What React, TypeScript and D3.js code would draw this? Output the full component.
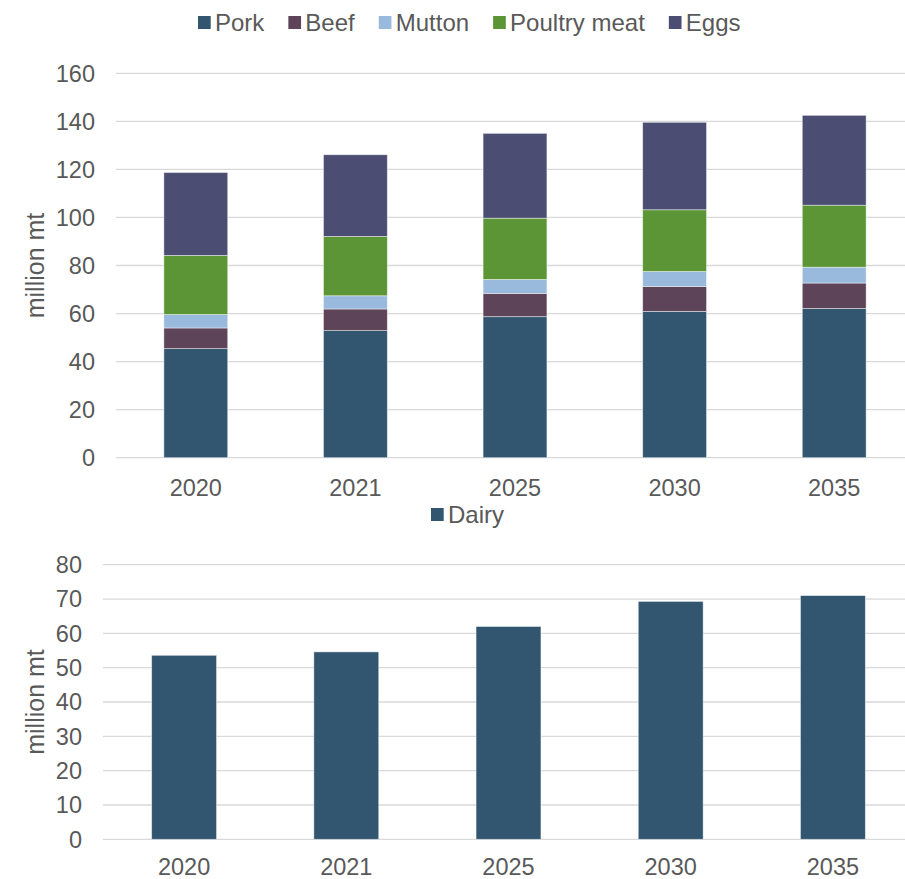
import { useRef, useEffect } from 'react';
import * as d3 from 'd3';

// data (million mt)
const years = ['2020', '2021', '2025', '2030', '2035'];
const meatSeries = ['Pork', 'Beef', 'Mutton', 'Poultry meat', 'Eggs'];
const pork = [45.4, 52.9, 58.7, 60.9, 62.1];
const beef = [8.6, 9.0, 9.7, 10.4, 10.6];
const mutton = [5.6, 5.5, 5.8, 6.2, 6.6];
const poultry = [24.6, 24.7, 25.5, 25.7, 25.8];
const eggs = [34.5, 34.0, 35.3, 36.4, 37.4];
const dairy = [53.6, 54.6, 62.0, 69.3, 71.0];
const topTicks = [0, 20, 40, 60, 80, 100, 120, 140, 160];
const bottomTicks = [0, 10, 20, 30, 40, 50, 60, 70, 80];

const colors = ['#325670', '#5d4459', '#99b9dd', '#5b9535', '#4b4d72'];
const textColor = '#595959';
const gridColor = '#d9d9d9';
const font = '"Liberation Sans", Arial, sans-serif';

function App() {
    const svgRef = useRef<SVGSVGElement>(null);

    useEffect(() => {
        const width = 905;
        const height = 879;
        const svg = d3.select(svgRef.current)
            .attr('width', width)
            .attr('height', height)
            .style('font-family', font);
        svg.selectAll('*').remove();

        //Legend helper: swatch + label, laid out left to right
        function legend(names: string[], cols: string[], x0: number, cy: number) {
            const g = svg.append('g');
            let x = x0;
            names.forEach((name, i) => {
                g.append('rect')
                    .attr('x', x).attr('y', cy - 6.5)
                    .attr('width', 12.7).attr('height', 13)
                    .attr('fill', cols[i]);
                const t = g.append('text')
                    .attr('x', x + 17)
                    .attr('y', cy)
                    .attr('dy', '0.36em')
                    .attr('font-size', 24)
                    .attr('fill', textColor)
                    .text(name);
                const w = (t.node() as SVGTextElement).getComputedTextLength();
                x = x + 17 + w + 24;
            });
        }

        //Gridlines + y tick labels
        function yAxis(y: d3.ScaleLinear<number, number>, ticks: number[], left: number, titleY: number) {
            const g = svg.append('g');
            g.selectAll('line').data(ticks).join('line')
                .attr('x1', left).attr('x2', width)
                .attr('y1', d => y(d)).attr('y2', d => y(d))
                .attr('stroke', gridColor).attr('stroke-width', 1.3);
            g.selectAll('text').data(ticks).join('text')
                .attr('x', left - 21)
                .attr('y', d => y(d))
                .attr('dy', '0.36em')
                .attr('text-anchor', 'end')
                .attr('font-size', 23.5)
                .attr('fill', textColor)
                .text(d => d);
            svg.append('text')
                .attr('transform', `translate(44,${titleY}) rotate(-90)`)
                .attr('text-anchor', 'middle')
                .attr('font-size', 25)
                .attr('fill', textColor)
                .text('million mt');
        }

        function xLabels(x: d3.ScaleBand<string>, baseline: number) {
            svg.append('g').selectAll('text').data(years).join('text')
                .attr('x', d => (x(d) as number) + x.bandwidth() / 2)
                .attr('y', baseline)
                .attr('text-anchor', 'middle')
                .attr('font-size', 23.5)
                .attr('fill', textColor)
                .text(d => d);
        }

        // ---- Top chart: stacked meat & eggs
        const xTop = d3.scaleBand<string>().domain(years).range([116, 914])
            .paddingInner(0.6).paddingOuter(0.3);
        const yTop = d3.scaleLinear().domain([0, 160]).range([457.7, 73.3]);

        legend(meatSeries, colors, 198, 22.5);
        yAxis(yTop, topTicks, 116, yTop(80));

        const table = years.map((yr, i) => ({
            year: yr,
            Pork: pork[i], Beef: beef[i], Mutton: mutton[i],
            'Poultry meat': poultry[i], Eggs: eggs[i],
        }));
        const stacked = d3.stack<any>().keys(meatSeries)(table);

        svg.append('g').selectAll('g').data(stacked).join('g')
            .attr('fill', (_, i) => colors[i])
            .selectAll('rect').data(d => d).join('rect')
            .attr('x', d => xTop(d.data.year) as number)
            .attr('width', xTop.bandwidth())
            .attr('y', d => yTop(d[1]))
            .attr('height', d => yTop(d[0]) - yTop(d[1]))
            .attr('stroke', '#ffffff').attr('stroke-opacity', 0.55).attr('stroke-width', 0.8);

        xLabels(xTop, 495.5);

        // ---- Bottom chart: dairy
        const xBot = d3.scaleBand<string>().domain(years).range([103, 914])
            .paddingInner(0.6).paddingOuter(0.3);
        const yBot = d3.scaleLinear().domain([0, 80]).range([839.3, 564.7]);

        legend(['Dairy'], [colors[0]], 431, 514.5);
        yAxis(yBot, bottomTicks, 103, yBot(40));

        svg.append('g').selectAll('rect').data(dairy).join('rect')
            .attr('x', (_, i) => xBot(years[i]) as number)
            .attr('width', xBot.bandwidth())
            .attr('y', d => yBot(d))
            .attr('height', d => yBot(0) - yBot(d))
            .attr('fill', colors[0])
            .attr('stroke', '#ffffff').attr('stroke-opacity', 0.55).attr('stroke-width', 0.8);

        xLabels(xBot, 875);
    }, []);

    return (
        <div style={{ position: 'absolute', left: 0, top: 0 }}>
            <svg ref={svgRef} style={{ display: 'block' }} />
        </div>
    );
}

export default App;
